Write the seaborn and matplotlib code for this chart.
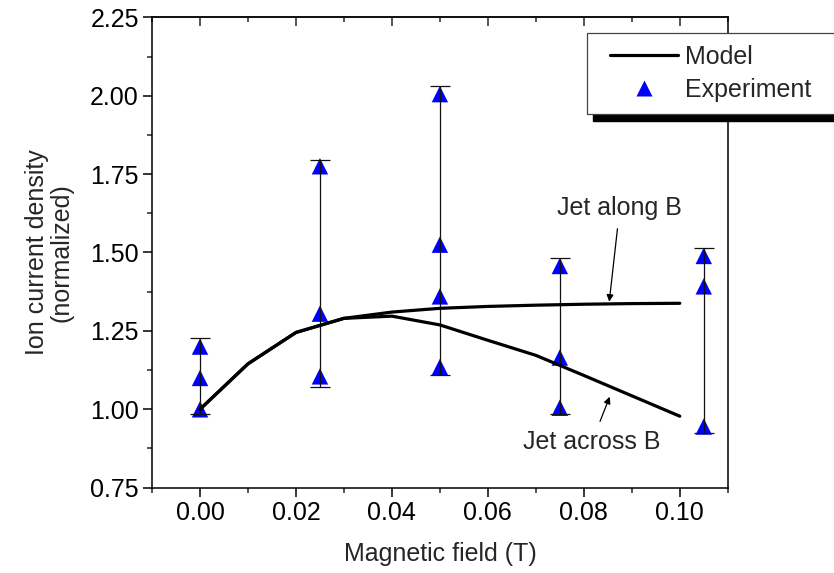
import pandas as pd
import matplotlib
matplotlib.use("Agg")
import matplotlib.pyplot as plt
import seaborn as sns
from matplotlib.ticker import MultipleLocator
from matplotlib.lines import Line2D
from matplotlib.patches import Rectangle
from matplotlib.legend_handler import HandlerLine2D

# ==========================================
# Data
# ==========================================

# model curves
field_model = [0.00, 0.01, 0.02, 0.03, 0.04, 0.05, 0.06, 0.07, 0.08, 0.09, 0.10]
jet_along = [1.00, 1.145, 1.245, 1.29, 1.31, 1.322, 1.328, 1.332, 1.335, 1.337, 1.338]
jet_across = [1.00, 1.145, 1.245, 1.29, 1.297, 1.269, 1.22, 1.172, 1.108, 1.043, 0.978]

# experiment points
field_exp = [0.0, 0.0, 0.0,
             0.025, 0.025, 0.025,
             0.05, 0.05, 0.05, 0.05,
             0.075, 0.075, 0.075,
             0.105, 0.105, 0.105]
current_exp = [1.00, 1.10, 1.20,
               1.105, 1.305, 1.775,
               1.135, 1.36, 1.525, 2.005,
               1.005, 1.165, 1.457,
               0.945, 1.392, 1.489]

# spread bars of the experiment
bar_field = [0.0, 0.025, 0.05, 0.075, 0.105]
bar_low = [0.985, 1.072, 1.109, 0.985, 0.925]
bar_high = [1.226, 1.795, 2.032, 1.483, 1.513]

# ==========================================
# Plot
# ==========================================

sns.set_style("ticks")
plt.rcParams["font.family"] = ["Liberation Sans", "DejaVu Sans"]
plt.rcParams["font.size"] = 18

fig = plt.figure(figsize=(8.34, 5.73), dpi=100)
ax = fig.add_axes([0.1823, 0.1489, 0.6903, 0.8209])

exp = pd.DataFrame({"field": field_exp, "current": current_exp})

sns.scatterplot(
    data=exp,
    x="field",
    y="current",
    marker="^",
    s=140,
    color="#0000ff",
    edgecolor="none",
    linewidth=0,
    zorder=2,
    ax=ax
)

center = [(lo + hi) / 2 for lo, hi in zip(bar_low, bar_high)]
err = [[c - lo for c, lo in zip(center, bar_low)],
       [hi - c for c, hi in zip(center, bar_high)]]
ax.errorbar(bar_field, center, yerr=err, fmt="none", ecolor="#111111",
            elinewidth=0.9, capsize=7.5, capthick=0.9, zorder=3)

sns.lineplot(x=field_model, y=jet_along, color="black", lw=2.3, zorder=4, ax=ax)
sns.lineplot(x=field_model, y=jet_across, color="black", lw=2.3, zorder=4, ax=ax)

ax.annotate("Jet along B", xy=(0.0853, 1.343), xytext=(0.0875, 1.642),
            ha="center", va="center", fontsize=18,
            arrowprops=dict(arrowstyle="-|>", color="black", lw=0.9,
                            mutation_scale=10, shrinkA=4, shrinkB=0))
ax.annotate("Jet across B", xy=(0.0854, 1.040), xytext=(0.0817, 0.896),
            ha="center", va="center", fontsize=18,
            arrowprops=dict(arrowstyle="-|>", color="black", lw=0.9,
                            mutation_scale=10, shrinkA=4, shrinkB=0))

ax.set_xlim(-0.01, 0.11)
ax.set_ylim(0.75, 2.25)
ax.xaxis.set_major_locator(MultipleLocator(0.02))
ax.xaxis.set_minor_locator(MultipleLocator(0.01))
ax.yaxis.set_major_locator(MultipleLocator(0.25))
ax.yaxis.set_minor_locator(MultipleLocator(0.125))
ax.xaxis.set_major_formatter(lambda v, p: f"{v:.2f}")
ax.yaxis.set_major_formatter(lambda v, p: f"{v:.2f}")

for side in ["left", "right", "top", "bottom"]:
    ax.spines[side].set_visible(True)
    ax.spines[side].set_linewidth(1.1)
    ax.spines[side].set_color("black")

ax.tick_params(which="major", direction="out", length=6.5, width=1.1,
               labelsize=18, pad=3, colors="black")
ax.tick_params(which="minor", direction="out", length=3.6, width=1.1)

top = ax.secondary_xaxis("top")
top.xaxis.set_major_locator(MultipleLocator(0.02))
top.xaxis.set_minor_locator(MultipleLocator(0.01))
top.tick_params(which="major", direction="in", length=6.5, width=1.1, labeltop=False)
top.tick_params(which="minor", direction="in", length=3.6, width=1.1)
top.spines["top"].set_linewidth(1.1)

ax.set_xlabel("Magnetic field (T)", fontsize=18, labelpad=12)
ax.set_ylabel("Ion current density\n(normalized)", fontsize=18, labelpad=12,
              linespacing=1.0)

handles = [
    Line2D([], [], color="black", lw=2.3),
    Line2D([], [], marker="^", color="#0000ff", ls="none", markersize=12,
           markeredgecolor="none"),
]
leg = fig.legend(
    handles, ["Model", "Experiment"],
    loc="upper left",
    bbox_to_anchor=(586.7 / 834, 1 - 113.3 / 573, 0.4, 80.6 / 573),
    mode="expand",
    borderaxespad=0,
    borderpad=0.5,
    labelspacing=0.34,
    handlelength=3.15,
    handletextpad=0.3,
    handler_map={Line2D: HandlerLine2D(xpad=0.43)},
    fontsize=18,
    frameon=True,
    fancybox=False,
    framealpha=1,
    edgecolor="#444444",
)
leg.get_frame().set_linewidth(0.9)

# offset black shadow under the legend box
fig.canvas.draw()
bb = leg.get_window_extent().transformed(fig.transFigure.inverted())
fig.patches.append(Rectangle((bb.x0 + 6 / 834, bb.y0 - 7 / 573), bb.width, bb.height,
                             transform=fig.transFigure, color="black", zorder=4))

plt.savefig("out.png", dpi=100)
